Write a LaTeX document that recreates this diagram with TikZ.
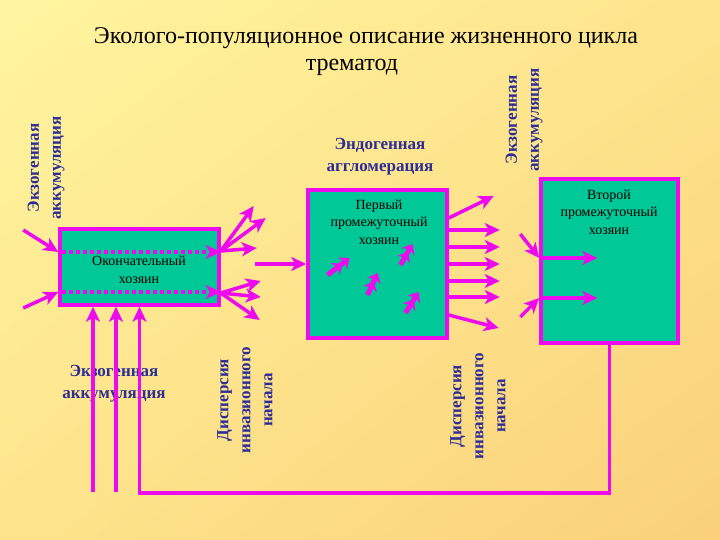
\documentclass[tikz,border=0pt]{standalone}
\usepackage{fontspec}
\setmainfont{Liberation Serif}
\usetikzlibrary{arrows.meta,calc,shadings}
\definecolor{bgA}{RGB}{255,245,160}
\definecolor{bgB}{RGB}{253,228,140}
\definecolor{bgC}{RGB}{250,208,122}
\definecolor{teal}{RGB}{0,200,150}
\definecolor{mag}{RGB}{238,10,238}
\definecolor{navy}{RGB}{45,45,150}
\tikzset{
  box/.style={draw=mag, fill=teal, line width=3.5pt, inner sep=0pt},
  boxtxt/.style={font=\fontsize{14}{17.5}\selectfont, align=center, text=black},
  lbl/.style={font=\fontsize{17}{22}\selectfont\bfseries, align=center, text=navy},
  arr/.style={draw=mag, line width=3.5pt, -{Stealth[length=15pt,width=14pt,inset=4pt]}},
  dotarr/.style={draw=mag, line width=4pt, dash pattern=on 4pt off 3pt, -{Stealth[length=15pt,width=14pt,inset=4pt]}},
  icon/.style={draw=mag, line width=5pt, -{Stealth[length=9pt,width=15pt,inset=3pt] Stealth[length=9pt,width=15pt,inset=3pt]}},
  titlef/.style={font=\fontsize{24}{28}\selectfont, text=black}
}
\begin{document}
\begin{tikzpicture}[x=1pt,y=-1pt]
\useasboundingbox (0,0) rectangle (720,540);
\shade[upper left=bgA, upper right=bgB, lower left=bgB, lower right=bgC] (0,0) rectangle (720,540);

% title
\node[titlef] (t1) at (366,38) {Эколого-популяционное описание жизненного цикла};
\node[titlef] (t2) at (352,67) {трематод};

% boxes
\node[box, minimum width=159pt, minimum height=76pt] (fin) at (139.5,267) {};
\node[box, minimum width=139pt, minimum height=148pt] (p1) at (377.5,264) {};
\node[box, minimum width=137pt, minimum height=164pt] (p2) at (609.5,261) {};

\node[boxtxt] (fintxt) at (139,270) {Окончательный\\хозяин};
\node[boxtxt] (p1txt) at (379,222) {Первый\\промежуточный\\хозяин};
\node[boxtxt] (p2txt) at (609,212) {Второй\\промежуточный\\хозяин};

% labels
\node[lbl, rotate=90] (exoL) at (46,168) {Экзогенная\\аккумуляция};
\node[lbl, rotate=90] (exoR) at (524,120) {Экзогенная\\аккумуляция};
\node[lbl] (exoB) at (114,384) {Экзогенная\\аккумуляция};
\node[lbl, rotate=90] (disp1) at (245,400) {Дисперсия\\инвазионного\\начала};
\node[lbl, rotate=90] (disp2) at (478,406) {Дисперсия\\инвазионного\\начала};
\node[lbl] (endo) at (380,157) {Эндогенная\\аггломерация};

% dotted arrows inside final host
\draw[dotarr] ([xshift=4pt,yshift=15pt]fin.west) -- ([yshift=15pt]fin.east);
\draw[dotarr] ([xshift=4pt,yshift=-25pt]fin.west) -- ([yshift=-25pt]fin.east);

% incoming to final host from left
\draw[arr] ($(fin.west)+(-35,-37)$) -- ([yshift=15pt]fin.west);
\draw[arr] ($(fin.west)+(-35,41)$) -- ([yshift=-25pt]fin.west);

% outgoing from final host
\draw[arr] ([yshift=16pt]fin.east) -- ++(33,-45);
\draw[arr] ([yshift=16pt]fin.east) -- ++(45,-33);
\draw[arr] ([yshift=16pt]fin.east) -- ++(36,-3);
\draw[arr] ([yshift=-26pt]fin.east) -- ++(40,-12);
\draw[arr] ([yshift=-26pt]fin.east) -- ++(40,4);
\draw[arr] ([yshift=-26pt]fin.east) -- ++(39,27);

% into first intermediate host
\draw[arr] ($(p1.west)+(-51,0)$) -- (p1.west);

% icons inside first intermediate host
\draw[icon] ($(p1.center)+(-50,11)$) -- ++(22,-17);
\draw[icon] ($(p1.center)+(-10,31)$) -- ++(10,-22);
\draw[icon] ($(p1.center)+(23,1)$) -- ++(12,-21);
\draw[icon] ($(p1.center)+(28,49)$) -- ++(13,-21);

% outgoing from first intermediate host
\draw[arr] ([yshift=46pt]p1.east) -- ++(45,-22);
\foreach \s in {34,17,0,-17,-33}
  \draw[arr] ([yshift=\s pt]p1.east) -- ++(51,0);
\draw[arr] ([yshift=-51pt]p1.east) -- ++(50,13);

% into second intermediate host
\draw[arr] ($(p2.west)+(-19,-27)$) -- ([yshift=3pt]p2.west);
\draw[arr] ($(p2.west)+(-19,56)$) -- ([yshift=-37pt]p2.west);
\draw[arr] ([yshift=3pt]p2.west) -- ++(58,0);
\draw[arr] ([yshift=-37pt]p2.west) -- ++(58,0);

% loop back to final host
\draw[arr] (p2.south) -- ++(0,148) -| (fin.south);
\draw[arr] ($(fin.south)+(-46.5,185)$) -- ($(fin.south)+(-46.5,0)$);
\draw[arr] ($(fin.south)+(-23.5,185)$) -- ($(fin.south)+(-23.5,0)$);
\end{tikzpicture}
\end{document}
